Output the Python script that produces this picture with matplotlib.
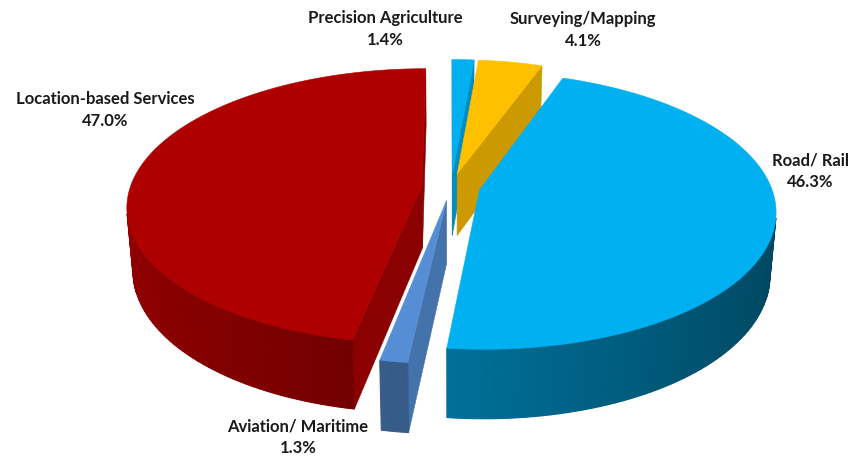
import numpy as np
import matplotlib.pyplot as plt
from matplotlib.patches import Polygon
from matplotlib.colors import to_rgb

# data, clockwise from 12 o'clock
categories = ["Precision Agriculture", "Surveying/Mapping", "Road/ Rail",
              "Aviation/ Maritime", "Location-based Services"]
shares = [1.4, 4.1, 46.3, 1.3, 47.0]

# styling
top_colors = ["#00B0F0", "#FFC000", "#00B0F0", "#558ED5", "#AE0000"]
label_pos = [(385, 29), (583, 30), (810, 171), (298, 437), (105, 110)]

# simple perspective camera for the 3d look
ELEV = np.radians(27.5)
DIST = 6.0
FOCAL = 1750
CX, CY = 451, 187
THICK = 0.245
EXPLODE = 0.1

cam = np.array([0.0, -DIST * np.cos(ELEV), DIST * np.sin(ELEV)])


def project(x, y, z):
    depth = DIST + y * np.cos(ELEV) - z * np.sin(ELEV)
    u = FOCAL * x / depth
    v = FOCAL * (y * np.sin(ELEV) + z * np.cos(ELEV)) / depth
    return CX + u, CY - v


def shade(color, k):
    r, g, b = to_rgb(color)
    return (r * k, g * k, b * k)


def facing(normal, point):
    return np.dot(normal, cam - np.asarray(point)) > 0


fig = plt.figure(figsize=(8.58, 4.58), dpi=100)
ax = fig.add_axes([0, 0, 1, 1])
ax.set_xlim(0, 858)
ax.set_ylim(458, 0)
ax.axis("off")

total = sum(shares)
bounds = np.concatenate([[0], np.cumsum(shares)]) / total * 2 * np.pi

slices = []
for i, val in enumerate(shares):
    t1, t2 = bounds[i], bounds[i + 1]
    mid = (t1 + t2) / 2
    ox, oy = EXPLODE * np.sin(mid), EXPLODE * np.cos(mid)
    slices.append((oy, i, t1, t2, ox))

# far slices first
for oy, i, t1, t2, ox in sorted(slices, reverse=True):
    col = top_colors[i]
    n = max(3, int(np.degrees(t2 - t1) / 1.5) + 2)
    th = np.linspace(t1, t2, n)
    rx = ox + np.sin(th)
    ry = oy + np.cos(th)

    # radial faces
    for ang, normal in [(t1, (-np.cos(t1), np.sin(t1), 0)),
                        (t2, (np.cos(t2), -np.sin(t2), 0))]:
        px, py = ox + np.sin(ang), oy + np.cos(ang)
        cen = (ox + 0.5 * np.sin(ang), oy + 0.5 * np.cos(ang), -THICK / 2)
        if facing(normal, cen):
            pts = [project(ox, oy, 0), project(px, py, 0),
                   project(px, py, -THICK), project(ox, oy, -THICK)]
            ax.add_patch(Polygon(pts, closed=True, facecolor=shade(col, 0.8),
                                 edgecolor=shade(col, 0.8), lw=0.4))

    # outer wall
    for k in range(n - 1):
        tm = (th[k] + th[k + 1]) / 2
        normal = (np.sin(tm), np.cos(tm), 0)
        pm = (ox + np.sin(tm), oy + np.cos(tm), -THICK / 2)
        if not facing(normal, pm):
            continue
        kf = 0.4 + 0.43 * (1 - np.sin(tm)) / 2
        c = shade(col, kf)
        pts = [project(rx[k], ry[k], 0), project(rx[k + 1], ry[k + 1], 0),
               project(rx[k + 1], ry[k + 1], -THICK), project(rx[k], ry[k], -THICK)]
        ax.add_patch(Polygon(pts, closed=True, facecolor=c, edgecolor=c, lw=0.8))

    # top
    pts = [project(ox, oy, 0)] + [project(x, y, 0) for x, y in zip(rx, ry)]
    ax.add_patch(Polygon(pts, closed=True, facecolor=col, edgecolor=col, lw=0.4))

plt.rcParams['font.family'] = ['Lato', 'DejaVu Sans']
for name, val, (lx, ly) in zip(categories, shares, label_pos):
    ax.text(lx, ly, f"{name}\n{val:.1f}%", ha="center", va="center",
            fontsize=12, fontweight="bold", color="#1A1A1A", linespacing=1.45)

fig.savefig("out.png", dpi=100)
